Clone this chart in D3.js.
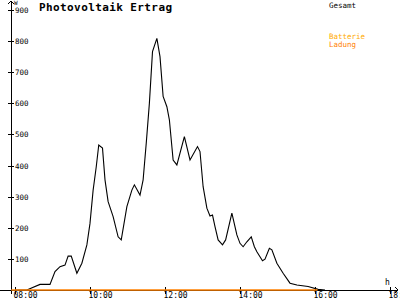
<!DOCTYPE html>
<html><head><meta charset="utf-8">
<script src="https://cdn.jsdelivr.net/npm/d3@7"></script>
<style>
html,body{margin:0;padding:0;background:#fff;}
svg{display:block;}
text{font-family:"DejaVu Sans Mono","Liberation Mono",monospace;}
</style></head>
<body>
<svg id="c" width="400" height="300"></svg>
<script>
const title = "Photovoltaik Ertrag";
const yTicks = [100,200,300,400,500,600,700,800,900];
const xTickLabels = ["08:00","10:00","12:00","14:00","16:00","18:00"];
const times = ["08:00","08:19","08:40","08:56","09:04","09:12","09:20","09:25","09:30","09:39","09:47","09:55",
"10:00","10:05","10:10","10:14","10:20","10:24","10:29","10:37","10:45","10:50","10:59","11:07","11:11","11:20",
"11:25","11:30","11:35","11:40","11:47","11:52","11:57","12:03","12:07","12:13","12:19","12:31","12:40","12:52",
"12:56","13:01","13:07","13:12","13:16","13:20","13:25","13:32","13:37","13:47","13:55","14:00","14:05","14:11",
"14:18","14:23","14:27","14:36","14:40","14:47","14:51","14:59","15:09","15:20","15:31","15:49","16:05","16:16"];
const gesamt = [0,0,18,18,59,75,80,109,109,54,86,145,
214,321,396,466,456,354,284,236,171,161,268,321,338,305,
354,472,600,766,809,750,622,589,547,418,402,493,418,461,
445,332,263,238,241,204,161,145,161,247,177,150,139,155,
171,139,123,94,99,134,129,86,54,22,16,11,2,0];
const battTimes = ["07:54","16:04"];
const battValues = [0,0];
const legendLabels = ["Gesamt","Batterie","Ladung"];

const parse = d3.timeParse("%H:%M");
const svg = d3.select("#c");
const x = d3.scaleTime().domain([parse("08:00"), parse("18:00")]).range([15, 390]);
const y = d3.scaleLinear().domain([0, 900]).range([290, 10]);
const axisX = 11;

// axes
svg.append("line").attr("x1", axisX).attr("x2", axisX).attr("y1", 1).attr("y2", 294)
  .attr("stroke", "#000").attr("stroke-width", 1).attr("shape-rendering","crispEdges");
svg.append("line").attr("x1", 0).attr("x2", 398).attr("y1", y(0)).attr("y2", y(0))
  .attr("stroke", "#000").attr("stroke-width", 1).attr("shape-rendering","crispEdges");
// arrows
svg.append("path").attr("d", `M${axisX-3},${4}L${axisX},${1}L${axisX+3},${4}`).attr("fill","none").attr("stroke","#000");
svg.append("path").attr("d", `M${395},${y(0)-3}L${398},${y(0)}L${395},${y(0)+3}`).attr("fill","none").attr("stroke","#000");
svg.append("text").attr("x", 14).attr("y", 5).attr("font-size", 6).text("W");
svg.append("text").attr("x", 385).attr("y", 285).attr("font-size", 8).text("h");

// y ticks
yTicks.forEach(v => {
  svg.append("line").attr("x1", 8).attr("x2", 14).attr("y1", Math.round(y(v))+0.5).attr("y2", Math.round(y(v))+0.5)
    .attr("stroke", "#000");
  svg.append("text").attr("x", 15).attr("y", y(v)+3).attr("font-size", 7.5).text(v);
});
// x ticks
xTickLabels.forEach(t => {
  const xp = Math.round(x(parse(t)))+0.5;
  svg.append("line").attr("x1", xp).attr("x2", xp).attr("y1", 287).attr("y2", 294).attr("stroke", "#000");
  svg.append("text").attr("x", xp-2).attr("y", 298).attr("font-size", 8).text(t);
});

// series
const line = d3.line().x(d => x(parse(d[0]))).y(d => y(d[1]));
svg.append("path").datum(times.map((t,i)=>[t,gesamt[i]])).attr("d", line)
  .attr("fill","none").attr("stroke","#000").attr("stroke-width",1.1);
svg.append("path").datum(battTimes.map((t,i)=>[t,battValues[i]])).attr("d", line)
  .attr("fill","none").attr("stroke","#ff8000").attr("stroke-width",1.6);

// title
svg.append("text").attr("x", 39).attr("y", 11).attr("font-size", 11).attr("font-weight","bold")
  .attr("letter-spacing", 0.4).text(title);
// legend
svg.append("text").attr("x", 329).attr("y", 8).attr("font-size", 7.5).attr("fill","#000").text(legendLabels[0]);
svg.append("text").attr("x", 329).attr("y", 38.5).attr("font-size", 7.5).attr("fill","#ffaa00").text(legendLabels[1]);
svg.append("text").attr("x", 329).attr("y", 46.5).attr("font-size", 7.5).attr("fill","#ff8000").text(legendLabels[2]);
</script>
</body></html>
